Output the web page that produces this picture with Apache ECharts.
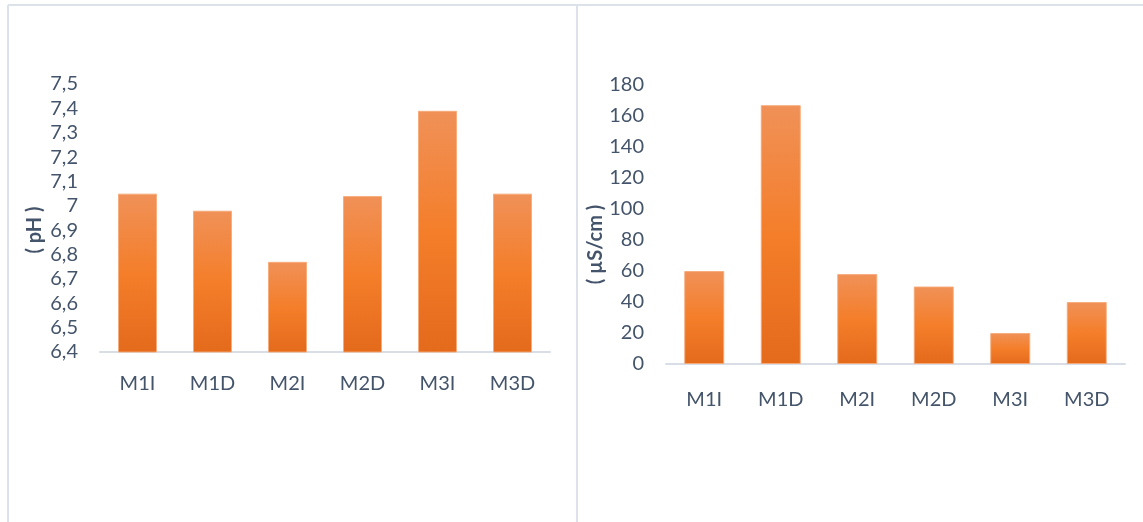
<!DOCTYPE html>
<html>
<head>
<meta charset="utf-8">
<script src="https://cdn.jsdelivr.net/npm/echarts@6/dist/echarts.min.js"></script>
<style>
  html, body { margin: 0; padding: 0; background: #fff; }
  #chart { width: 1143px; height: 522px; }
</style>
</head>
<body>
<div id="chart"></div>
<script>
// Sampling sites
const categories = ['M1I', 'M1D', 'M2I', 'M2D', 'M3I', 'M3D'];
// pH per site
const phValues = [7.05, 6.98, 6.77, 7.04, 7.39, 7.05];
// Electrical conductivity per site (µS/cm)
const condValues = [60, 167, 58, 50, 20, 40];
// Axis ranges
const phAxis = { min: 6.4, max: 7.5, interval: 0.1 };
const condAxis = { min: 0, max: 180, interval: 20 };

const textColor = '#44546A';
const fontFamily = 'Lato, "Open Sans", sans-serif';

const barFill = new echarts.graphic.LinearGradient(0, 0, 0, 1, [
  { offset: 0, color: '#F09158' },
  { offset: 0.5, color: '#F47E2A' },
  { offset: 1, color: '#E46A1C' }
]);

function catAxis(gridIndex, margin) {
  return {
    type: 'category', gridIndex, data: categories,
    axisLine: { lineStyle: { color: '#D9DEE6', width: 2 } },
    axisTick: { show: false },
    axisLabel: { color: textColor, fontSize: 20, fontFamily, margin }
  };
}

// Rotated axis title; padding on the text's trailing side slides it down the axis
function valAxis(gridIndex, range, name, gap, shift, fmt) {
  return {
    type: 'value', gridIndex,
    min: range.min, max: range.max, interval: range.interval,
    name, nameLocation: 'middle', nameGap: gap, nameRotate: 90,
    nameTextStyle: {
      color: textColor, fontSize: 20, fontWeight: 'bold', fontFamily,
      padding: [0, shift * 2, 0, 0]
    },
    axisLine: { show: false }, axisTick: { show: false },
    splitLine: { show: false },
    axisLabel: { color: textColor, fontSize: 20, fontFamily, margin: 22, formatter: fmt }
  };
}

const barStyle = {
  color: barFill,
  borderColor: 'rgba(246,170,120,0.9)',
  borderWidth: 1
};

const chart = echarts.init(document.getElementById('chart'), null, { renderer: 'canvas' });
chart.setOption({
  animation: false,
  backgroundColor: '#fff',
  graphic: [
    { type: 'line', shape: { x1: 8, y1: 5, x2: 1143, y2: 5 }, style: { stroke: '#DDE2EA', lineWidth: 2 } },
    { type: 'line', shape: { x1: 8, y1: 5, x2: 8, y2: 522 }, style: { stroke: '#DDE2EA', lineWidth: 2 } },
    { type: 'line', shape: { x1: 577, y1: 5, x2: 577, y2: 522 }, style: { stroke: '#DDE2EA', lineWidth: 2 } }
  ],
  grid: [
    { left: 100, top: 84, width: 450, height: 268 },
    { left: 666, top: 85, width: 459, height: 279 }
  ],
  xAxis: [catAxis(0, 22), catAxis(1, 26)],
  yAxis: [
    valAxis(0, phAxis, '( pH )', 55, 12, v => v.toFixed(1).replace('.', ',').replace(/,0$/, '')),
    valAxis(1, condAxis, '( µS/cm )', 43, 20, v => String(v))
  ],
  series: [
    { type: 'bar', xAxisIndex: 0, yAxisIndex: 0, data: phValues, barWidth: 39, itemStyle: barStyle },
    { type: 'bar', xAxisIndex: 1, yAxisIndex: 1, data: condValues, barWidth: 40, itemStyle: barStyle }
  ]
});
</script>
</body>
</html>
